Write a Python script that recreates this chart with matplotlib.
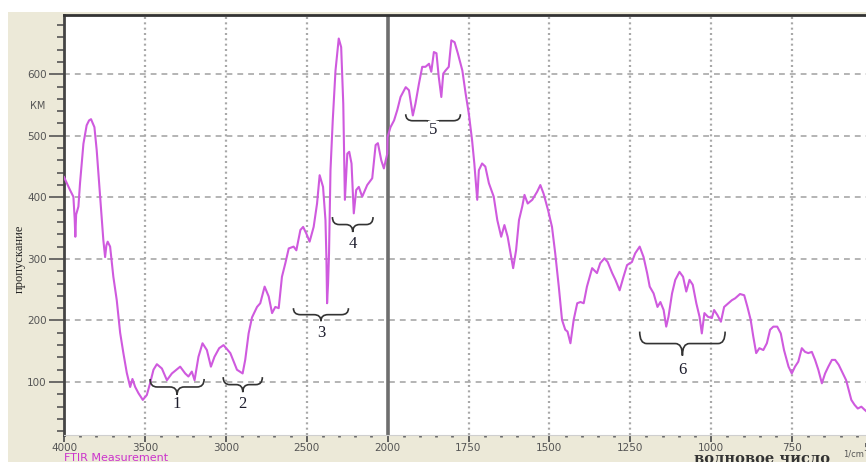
import numpy as np
import matplotlib
matplotlib.use("Agg")
import matplotlib.pyplot as plt
from matplotlib.patches import Rectangle, PathPatch
from matplotlib.path import Path
from matplotlib.transforms import IdentityTransform

# FTIR spectrum: wavenumber (1/cm) and transmittance
wavenumber = [
    4000, 3963, 3942, 3934, 3930, 3925, 3911, 3901, 3880, 3860, 3845, 3833,
    3812, 3798, 3777, 3757, 3746, 3738, 3730, 3715, 3695, 3674, 3653, 3633,
    3612, 3591, 3577, 3560, 3540, 3513, 3488, 3468, 3447, 3426, 3395, 3364,
    3333, 3282, 3251, 3231, 3210, 3193, 3169, 3144, 3117, 3092, 3070, 3041,
    3014, 2972, 2931, 2896, 2880, 2859, 2838, 2807, 2787, 2760, 2735, 2714,
    2694, 2673, 2653, 2632, 2611, 2581, 2564, 2539, 2522, 2502, 2482, 2457,
    2436, 2420, 2399, 2384, 2378, 2374, 2368, 2362, 2353, 2339, 2322, 2302,
    2287, 2274, 2264, 2249, 2237, 2223, 2209, 2194, 2178, 2157, 2126, 2095,
    2074, 2060, 2039, 2023, 2002,
    2000, 1991, 1980, 1970, 1960, 1944, 1934, 1922, 1914, 1903, 1893, 1883,
    1872, 1865, 1857, 1849, 1842, 1834, 1828, 1821, 1811, 1803, 1793, 1783,
    1769, 1759, 1749, 1739, 1732, 1723, 1718, 1708, 1698, 1687, 1672, 1661,
    1649, 1639, 1629, 1620, 1612, 1603, 1594, 1584, 1577, 1567, 1553, 1538,
    1528, 1518, 1504, 1492, 1482, 1471, 1461, 1451, 1444, 1435, 1425, 1414,
    1404, 1394, 1384, 1368, 1353, 1343, 1330, 1320, 1306, 1296, 1283, 1271,
    1260, 1245, 1235, 1221, 1209, 1198, 1190, 1178, 1166, 1157, 1147, 1139,
    1132, 1121, 1111, 1098, 1087, 1077, 1067, 1057, 1046, 1036, 1029, 1021,
    1010, 998, 991, 981, 970, 960, 947, 936, 926, 911, 898, 888, 878, 870,
    861, 851, 839, 828, 818, 808, 796, 785, 775, 761, 751, 741, 731, 720,
    710, 700, 689, 679, 669, 658, 648, 638, 627, 617, 606, 596, 583, 575,
    567, 557, 547, 536, 526, 515, 500,
]
transmittance = [
    433, 412, 401, 365, 336, 372, 385, 423, 487, 517, 525, 527,
    514, 477, 401, 331, 303, 322, 328, 320, 271, 233, 180, 147,
    115, 92, 105, 92, 82, 71, 79, 98, 120, 129, 122, 103,
    114, 125, 114, 109, 117, 103, 141, 163, 152, 125, 141, 155,
    160, 147, 120, 114, 136, 179, 205, 222, 228, 255, 239, 212,
    222, 220, 271, 293, 317, 320, 314, 347, 352, 341, 328, 352,
    390, 436, 417, 363, 300, 228, 260, 309, 444, 525, 606, 658,
    644, 552, 396, 471, 474, 455, 374, 412, 417, 401, 420, 431,
    485, 488, 460, 447, 471,
    498, 514, 525, 542, 563, 579, 574, 533, 552, 585, 612, 612,
    617, 604, 636, 634, 596, 563, 601, 606, 612, 655, 652, 634,
    606, 569, 536, 493, 455, 396, 444, 455, 450, 423, 401, 363,
    336, 355, 336, 309, 285, 314, 363, 385, 404, 390, 396, 409,
    420, 406, 379, 352, 309, 255, 201, 185, 182, 163, 201, 228,
    230, 228, 255, 285, 277, 293, 301, 295, 277, 266, 249, 271,
    290, 295, 309, 320, 303, 277, 255, 244, 222, 230, 217, 190,
    206, 244, 266, 279, 271, 247, 266, 258, 228, 206, 179, 212,
    206, 204, 217, 209, 198, 222, 228, 233, 236, 243, 241, 222, 201, 174,
    147, 155, 152, 163, 185, 190, 190, 179, 152, 125, 114, 125, 133, 155,
    149, 147, 149, 136, 120, 98, 114, 125, 136, 136, 128, 117, 103, 87,
    71, 63, 57, 60, 55, 50, 45,
]

x_major = [4000, 3500, 3000, 2500, 2000, 1750, 1500, 1250, 1000, 750, 500]
x_minor = [v for v in list(range(4000, 2000, -100)) + list(range(2000, 499, -50))
           if v not in x_major]
y_major = [100, 200, 300, 400, 500, 600]
y_minor = [v for v in range(20, 700, 20) if v not in y_major]

# bracketed bands: left/right wavenumber, top of brace, label and its level
brace_left = [3468, 3016, 2582, 2341, 1944, 1221]
brace_right = [3134, 2774, 2242, 2090, 1775, 957]
brace_top = [105, 108, 220, 368, 535, 182]
brace_label = ["1", "2", "3", "4", "5", "6"]
label_level = [64, 64, 180, 324, 509, 120]
brace_px = [16, 15, 13, 15, 13, 24]

line_col = "#cf5ade"
beige = "#ece9d8"


def fwd(x):
    x = np.asarray(x, float)
    return np.where(x >= 2000, x - 2000, 2 * (x - 2000))


def inv(u):
    u = np.asarray(u, float)
    return np.where(u >= 0, u + 2000, u / 2 + 2000)


fig = plt.figure(figsize=(8.66, 4.62), dpi=100)
fig.patch.set_facecolor("white")
fig.add_artist(Rectangle((8 / 866, 0), 1, (462 - 12) / 462, transform=fig.transFigure,
                         facecolor=beige, edgecolor="none", zorder=-10))

ax = fig.add_axes([64 / 866, 27 / 462, 809 / 866, 420.5 / 462])
ax.set_facecolor("white")
ax.set_xscale("function", functions=(fwd, inv))
ax.set_xlim(4000, 500)
ax.set_ylim(14, 697)

ax.set_xticks(x_major)
ax.set_xticks(x_minor, minor=True)
ax.set_xticklabels([str(v) for v in x_major])
ax.set_yticks(y_major)
ax.set_yticks(y_minor, minor=True)

for v in y_major:
    ax.axhline(v, color="#a8a8a8", lw=1.2, ls=(0, (3.5, 3)), zorder=1)
for v in x_major[1:4] + x_major[5:10]:
    ax.axvline(v, color="#a8a8a8", lw=1.6, ls=(0, (0.9, 1.5)), zorder=1)
ax.axvline(2000, color="#6e6e6e", lw=2.6, zorder=2)

ax.plot(wavenumber, transmittance, color=line_col, lw=1.5, zorder=3)

ax.tick_params(axis="y", which="major", length=10.8, width=1.2, color="#555555",
               pad=1.5, labelsize=7.5, labelcolor="#555555")
ax.tick_params(axis="y", which="minor", length=5, width=1.2, color="#555555")
ax.tick_params(axis="x", which="major", length=5, width=1.3, color="#555555",
               pad=0.5, labelsize=7.5, labelcolor="#555555")
ax.tick_params(axis="x", which="minor", length=1.6, width=2, color="#666666")

ax.spines["left"].set_color("#444444")
ax.spines["left"].set_linewidth(2)
ax.spines["top"].set_color("#333333")
ax.spines["top"].set_linewidth(2)
ax.spines["bottom"].set_color("#cfcfcf")
ax.spines["bottom"].set_linewidth(0.8)
ax.spines["right"].set_visible(False)

# curly braces drawn in pixel space
fig.canvas.draw()
for wl, wr, top, lab, ly, h in zip(brace_left, brace_right, brace_top,
                                   brace_label, label_level, brace_px):
    x0, y0 = ax.transData.transform((wl, top))
    x1, _ = ax.transData.transform((wr, top))
    xm = (x0 + x1) / 2
    ym = y0 - h / 2
    yt = y0 - h
    q = min(7, (x1 - x0) / 6)
    verts = [(x0, y0), (x0, ym), (x0 + q, ym), (xm - q, ym), (xm, ym), (xm, yt),
             (xm, ym), (xm + q, ym), (x1 - q, ym), (x1, ym), (x1, y0)]
    codes = [Path.MOVETO, Path.CURVE3, Path.CURVE3, Path.LINETO, Path.CURVE3,
             Path.CURVE3, Path.CURVE3, Path.CURVE3, Path.LINETO, Path.CURVE3,
             Path.CURVE3]
    ax.add_patch(PathPatch(Path(verts, codes), transform=IdentityTransform(),
                           facecolor="none", edgecolor="#333333", lw=1.2,
                           clip_on=False, zorder=4))
    _, ty = ax.transData.transform((wl, ly))
    ax.text(xm, ty, lab, transform=IdentityTransform(), ha="center", va="center",
            fontsize=12, family="Liberation Serif", color="#1c1c2c", zorder=5,
            bbox=dict(facecolor="white", edgecolor="none", pad=1))

fig.text(38 / 866, 1 - 106 / 462, "КМ", ha="center", va="center", fontsize=7,
         color="#555555")
fig.text(20 / 866, 1 - 259 / 462, "пропускание", ha="center", va="center",
         rotation=90, fontsize=9, family="Liberation Serif", color="#222222")
fig.text(64 / 866, 1 - 458 / 462, "FTIR Measurement", ha="left", va="center",
         fontsize=8, color="#cc33cc")
fig.text(762 / 866, 1 - 452 / 462, "волновое число", ha="center", va="top",
         fontsize=10.5, family="DejaVu Serif", weight="bold", color="#333333")
fig.text(843 / 866, 1 - 454 / 462, "1/cm", ha="left", va="center", fontsize=6,
         color="#555555")

fig.savefig("out.png", dpi=100)
